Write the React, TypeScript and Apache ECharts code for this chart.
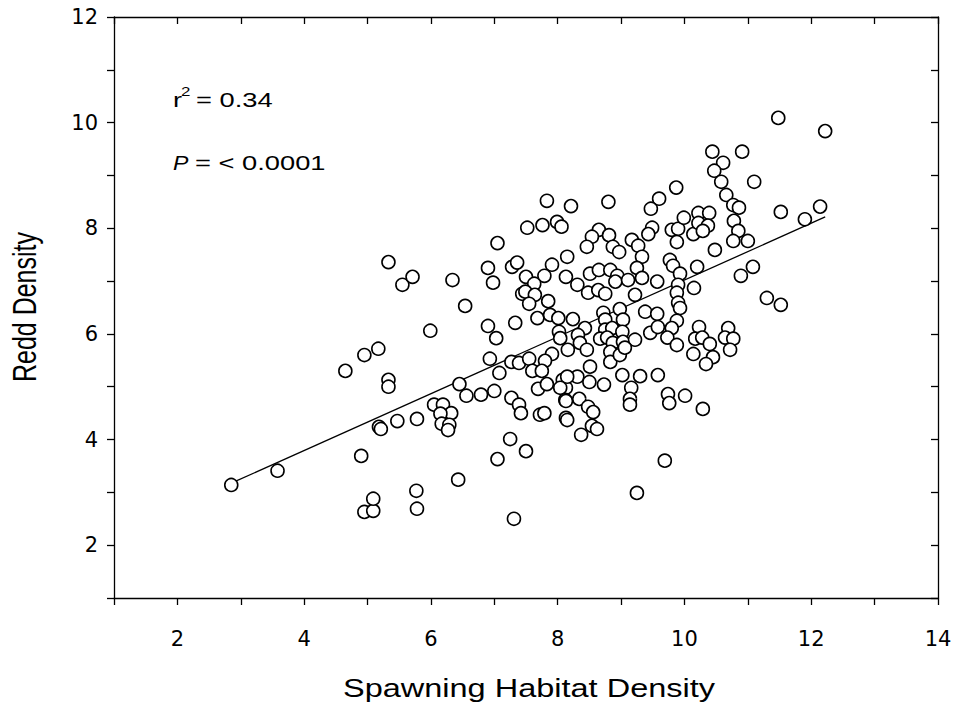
import React, { useEffect, useRef } from "react";
import * as echarts from "echarts";

// Spawning habitat density (x) and redd density (y)
const habitat = [
  2.85, 3.58, 4.65, 4.9, 4.95, 4.95, 5.09, 5.09, 5.17, 5.18, 5.21, 5.33, 5.33, 5.33, 5.47, 5.55, 5.71, 5.78, 5.77, 5.78,
  5.99, 6.05, 6.19, 6.32, 6.15, 6.17, 6.29, 6.27, 6.34, 6.54, 6.45, 6.56, 6.79, 7.0, 6.9, 7.03, 6.93, 7.08, 7.05, 6.9,
  6.98, 7.28, 7.36, 7.33, 7.27, 7.39, 7.27, 7.39, 7.42, 7.25, 7.5, 7.05, 6.43, 7.31,
  7.52, 7.76, 7.99, 8.06, 7.83, 7.91, 8.15, 7.5, 7.79, 8.13, 7.63, 7.44, 7.49, 7.64, 7.55, 7.85, 7.68, 7.88, 8.01, 8.02,
  8.04, 7.91, 7.55, 7.6, 7.8, 7.75, 7.69, 7.83, 8.08, 8.13, 8.12, 7.72, 7.79, 8.13,
  9.87, 9.6, 9.47, 8.8, 8.21, 8.65, 8.54, 8.81, 8.46, 8.87, 8.97, 9.17, 9.27, 9.49, 9.43, 9.8, 9.9, 9.88, 9.99, 10.14,
  10.22, 9.33, 9.77, 9.82,
  8.31, 8.51, 8.65, 8.83, 8.94, 8.91, 9.11, 9.25, 9.33, 9.57, 9.93, 10.2, 9.9, 8.48, 8.64, 8.75, 9.22, 9.88, 9.9, 9.93,
  10.15,
  8.24, 8.72, 8.98, 8.43, 8.75, 8.75, 8.86, 9.03, 9.02, 9.38, 9.57, 9.88, 8.32, 8.35, 8.67, 8.78, 8.87, 9.03, 9.22, 9.46,
  9.58, 9.8, 9.73, 9.88,
  8.16, 8.46, 8.83, 8.83, 8.98, 9.06, 8.51, 8.31, 9.02, 9.3, 9.58, 8.15, 8.5, 8.73, 9.16, 9.14, 9.14, 9.74, 9.76, 10.01,
  10.29, 8.04, 8.13, 8.34, 8.48, 8.56, 8.15, 8.54, 8.62, 8.37, 9.69, 9.25,
  11.48, 12.22, 10.44, 10.91, 10.61, 10.47, 10.58, 11.1, 10.66, 10.77, 10.86, 10.78, 10.85, 10.77, 11.0, 11.52, 11.9, 12.14, 10.39, 10.22,
  10.37, 10.29, 10.48, 10.89, 11.08, 11.3, 11.52, 10.23, 10.17, 10.28, 10.4, 10.14, 10.45, 10.34, 10.69, 10.64, 10.77, 10.72,
];

const redd = [
  3.14, 3.41, 5.3, 3.69, 5.6, 2.63, 2.65, 2.88, 5.72, 4.24, 4.2, 5.13, 5.0, 7.36, 4.35, 6.93, 7.08, 4.39, 3.03, 2.69,
  6.06, 4.66, 4.66, 4.5, 4.49, 4.3, 4.28, 4.18, 7.02, 6.53, 5.05, 4.83, 4.85, 4.92, 6.15, 5.92, 5.53, 5.26, 7.72, 7.25,
  6.97, 7.27, 7.35, 6.21, 5.47, 5.45, 4.79, 4.66, 4.5, 4.01, 3.78, 3.63, 3.24, 2.5,
  8.01, 8.06, 8.12, 8.03, 8.52, 7.31, 7.46, 7.08, 7.1, 7.08, 6.95, 6.76, 6.8, 6.74, 6.57, 6.62, 6.3, 6.36, 6.3, 6.04,
  5.92, 5.62, 5.53, 5.3, 5.49, 5.3, 4.96, 5.05, 5.13, 4.98, 4.75, 4.47, 4.5, 4.41,
  8.77, 8.56, 8.37, 8.5, 8.42, 7.97, 7.84, 7.87, 7.65, 7.65, 7.55, 7.78, 7.67, 8.01, 7.89, 7.97, 7.99, 7.74, 8.2, 7.89,
  8.29, 7.46, 7.4, 7.29,
  6.93, 7.14, 7.21, 7.21, 7.1, 6.99, 7.02, 7.25, 7.06, 6.99, 7.14, 7.27, 6.93, 6.78, 6.83, 6.76, 6.74, 6.78, 6.59, 6.49,
  6.87,
  6.28, 6.4, 6.47, 6.11, 6.27, 6.08, 6.11, 6.27, 6.04, 6.42, 6.38, 6.25, 5.98, 5.83, 5.91, 5.93, 5.83, 5.85, 5.89, 6.02,
  6.13, 6.11, 5.93, 5.79,
  5.7, 5.7, 5.66, 5.47, 5.6, 5.74, 5.38, 5.19, 5.22, 5.2, 5.22, 5.19, 5.09, 5.04, 4.98, 4.77, 4.66, 4.86, 4.69, 4.83,
  4.58, 4.98, 4.73, 4.77, 4.62, 4.52, 4.37, 4.26, 4.2, 4.09, 3.6, 2.99,
  10.09, 9.84, 9.45, 9.45, 9.24, 9.09, 8.88, 8.88, 8.63, 8.44, 8.39, 8.14, 7.95, 7.76, 7.76, 8.31, 8.17, 8.41, 8.29, 8.1,
  8.05, 7.95, 7.59, 7.1, 7.27, 6.68, 6.55, 6.13, 5.91, 5.93, 5.81, 5.62, 5.56, 5.43, 6.11, 5.93, 5.91, 5.7,
];

// Fitted regression line
const fitSlope = 0.538;
const fitIntercept = 1.64;
const xAxisTitle = "Spawning Habitat Density";
const yAxisTitle = "Redd Density";
const rSquaredText = "= 0.34";
const pValueText = "= < 0.0001";

const FONT = "Liberation Sans, Arial, Helvetica, sans-serif";
const STRETCH = 1.3; // the reference's type is widened horizontally

export default function App() {
  const ref = useRef<HTMLDivElement>(null);

  useEffect(() => {
    if (!ref.current) return;
    const chart = echarts.init(ref.current, undefined, { renderer: "svg" });

    const points = habitat.map((x, i) => [x, redd[i]]);
    const xMin = Math.min(...habitat);
    const xMax = Math.max(...habitat);
    const fitLine = [
      [xMin, fitIntercept + fitSlope * xMin],
      [xMax, fitIntercept + fitSlope * xMax],
    ];

    const axisLine = { show: true, onZero: false, lineStyle: { color: "#000", width: 1.3 } };
    const tickStyle = { color: "#000", width: 1.3 };
    const evenOnly = (v: number) => (Math.round(v) % 2 === 0 ? String(Math.round(v)) : "");
    const tickFont = { color: "#000", fontSize: 21, fontFamily: "DejaVu Sans, Liberation Sans, sans-serif" };

    const txt = (text: string, x: number, y: number, size: number, extra: any = {}) => ({
      type: "text",
      x,
      y,
      scaleX: extra.scaleX ?? STRETCH,
      scaleY: extra.scaleY ?? 1,
      rotation: extra.rotation ?? 0,
      style: {
        text,
        font: `${extra.italic ? "italic " : ""}${size}px ${FONT}`,
        fill: "#000",
        verticalAlign: "middle",
        align: extra.align || "left",
      },
    });

    chart.setOption({
      animation: false,
      backgroundColor: "#fff",
      grid: { left: 114, right: 19, top: 17, bottom: 110, containLabel: false },
      xAxis: [
        {
          type: "value",
          position: "bottom",
          min: 1,
          max: 14,
          interval: 1,
          axisLine,
          axisTick: { show: true, inside: false, length: 7, lineStyle: tickStyle },
          axisLabel: { formatter: evenOnly, margin: 30, ...tickFont },
          splitLine: { show: false },
        },
        {
          type: "value",
          position: "top",
          min: 1,
          max: 14,
          interval: 1,
          axisLine,
          axisTick: { show: true, inside: true, length: 7, lineStyle: tickStyle },
          axisLabel: { show: false },
          splitLine: { show: false },
        },
      ],
      yAxis: [
        {
          type: "value",
          position: "left",
          min: 1,
          max: 12,
          interval: 1,
          axisLine,
          axisTick: { show: true, inside: false, length: 7, lineStyle: tickStyle },
          axisLabel: { formatter: evenOnly, margin: 16, ...tickFont },
          splitLine: { show: false },
        },
        {
          type: "value",
          position: "right",
          min: 1,
          max: 12,
          interval: 1,
          axisLine,
          axisTick: { show: true, inside: true, length: 7, lineStyle: tickStyle },
          axisLabel: { show: false },
          splitLine: { show: false },
        },
      ],
      series: [
        {
          type: "line",
          data: fitLine,
          symbol: "none",
          lineStyle: { color: "#000", width: 1.3 },
          z: 1,
          silent: true,
        },
        {
          type: "scatter",
          data: points,
          symbol: "circle",
          symbolSize: 13,
          itemStyle: { color: "#fff", borderColor: "#000", borderWidth: 1.6, opacity: 1 },
          z: 2,
        },
      ],
      graphic: [
        txt(xAxisTitle, 529, 688, 25, { align: "center" }),
        txt(yAxisTitle, 25, 307, 25, { align: "center", rotation: Math.PI / 2, scaleX: 1, scaleY: STRETCH }),
        txt("r", 173, 100, 21),
        txt("2", 181, 91, 13),
        txt(rSquaredText, 196, 100, 21),
        txt("P", 173, 163, 21, { italic: true, scaleX: 1.1 }),
        txt(pValueText, 195, 163, 21),
      ],
    });

    return () => chart.dispose();
  }, []);

  return (
    <div
      ref={ref}
      style={{ position: "fixed", left: 0, top: 0, width: 957, height: 708, background: "#fff" }}
    />
  );
}
